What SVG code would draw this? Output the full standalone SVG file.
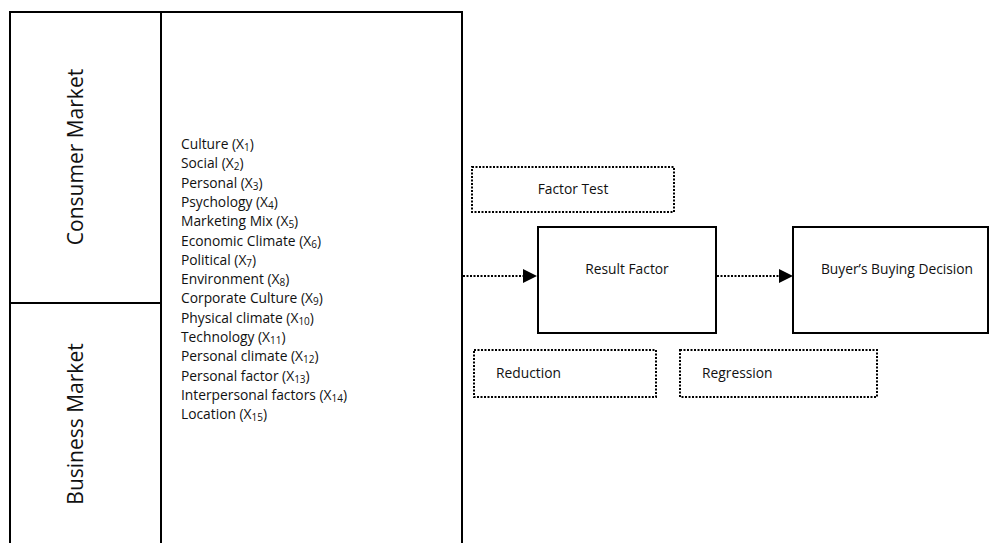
<svg xmlns="http://www.w3.org/2000/svg" width="990" height="543" viewBox="0 0 990 543">
<style>
text{font-family:"Open Sans","Liberation Sans",sans-serif;fill:#111}
.lst{font-size:13.8px}
.lbl{font-size:13.8px}
.big{font-size:21px}
.solid{fill:#fff;stroke:#000;stroke-width:2}
.dot{fill:#fff;stroke:#000;stroke-width:2;stroke-dasharray:2 1.5}
.sub{font-size:10px}
.conn{stroke:#000;stroke-width:2;stroke-dasharray:2 1.5;fill:none}
</style>
<g id="market-frame">
<path d="M10,543 V12 H462 V543" class="solid" fill="none"/>
<line x1="161" y1="12" x2="161" y2="543" stroke="#000" stroke-width="2"/>
<line x1="10" y1="303" x2="161" y2="303" stroke="#000" stroke-width="2"/>
</g>
<g id="consumer-market">
<text class="big" transform="translate(83,157) rotate(-90)" text-anchor="middle">Consumer Market</text>
</g>
<g id="business-market">
<text class="big" transform="translate(83,424) rotate(-90)" text-anchor="middle">Business Market</text>
</g>
<g id="factors" class="lst">
<text x="181" y="149">Culture (X<tspan class="sub" dy="2">1</tspan><tspan dy="-2">)</tspan></text>
<text x="181" y="168.3">Social (X<tspan class="sub" dy="2">2</tspan><tspan dy="-2">)</tspan></text>
<text x="181" y="187.6">Personal (X<tspan class="sub" dy="2">3</tspan><tspan dy="-2">)</tspan></text>
<text x="181" y="206.9">Psychology (X<tspan class="sub" dy="2">4</tspan><tspan dy="-2">)</tspan></text>
<text x="181" y="226.2">Marketing Mix (X<tspan class="sub" dy="2">5</tspan><tspan dy="-2">)</tspan></text>
<text x="181" y="245.5">Economic Climate (X<tspan class="sub" dy="2">6</tspan><tspan dy="-2">)</tspan></text>
<text x="181" y="264.8">Political (X<tspan class="sub" dy="2">7</tspan><tspan dy="-2">)</tspan></text>
<text x="181" y="284.1">Environment (X<tspan class="sub" dy="2">8</tspan><tspan dy="-2">)</tspan></text>
<text x="181" y="303.4">Corporate Culture (X<tspan class="sub" dy="2">9</tspan><tspan dy="-2">)</tspan></text>
<text x="181" y="322.7">Physical climate (X<tspan class="sub" dy="2">10</tspan><tspan dy="-2">)</tspan></text>
<text x="181" y="342">Technology (X<tspan class="sub" dy="2">11</tspan><tspan dy="-2">)</tspan></text>
<text x="181" y="361.3">Personal climate (X<tspan class="sub" dy="2">12</tspan><tspan dy="-2">)</tspan></text>
<text x="181" y="380.6">Personal factor (X<tspan class="sub" dy="2">13</tspan><tspan dy="-2">)</tspan></text>
<text x="181" y="399.9">Interpersonal factors (X<tspan class="sub" dy="2">14</tspan><tspan dy="-2">)</tspan></text>
<text x="181" y="419.2">Location (X<tspan class="sub" dy="2">15</tspan><tspan dy="-2">)</tspan></text>
</g>
<g id="factor-test">
<rect x="472" y="167" width="202" height="45" class="dot"/>
<text class="lbl" x="573" y="194" text-anchor="middle">Factor Test</text>
</g>
<g id="result-factor">
<rect x="538" y="227" width="178" height="106" class="solid"/>
<text class="lbl" x="627" y="274" text-anchor="middle">Result Factor</text>
</g>
<g id="buying-decision">
<rect x="793" y="227" width="195" height="106" class="solid"/>
<text class="lbl" x="897" y="274" text-anchor="middle">Buyer’s Buying Decision</text>
</g>
<g id="reduction">
<rect x="474" y="350" width="182" height="47" class="dot"/>
<text class="lbl" x="496" y="378">Reduction</text>
</g>
<g id="regression">
<rect x="680" y="350" width="197" height="47" class="dot"/>
<text class="lbl" x="702" y="378">Regression</text>
</g>
<g id="connectors">
<line x1="463" y1="276" x2="523" y2="276" class="conn"/>
<path d="M523,269 L537,276 L523,283 Z" fill="#000"/>
<line x1="717" y1="276" x2="779" y2="276" class="conn"/>
<path d="M779,269 L793,276 L779,283 Z" fill="#000"/>
</g>
</svg>
